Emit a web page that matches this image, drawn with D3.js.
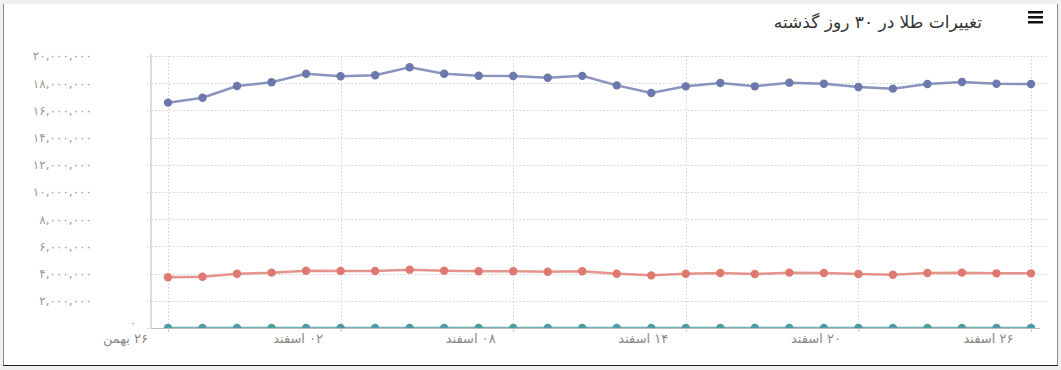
<!DOCTYPE html>
<meta charset="utf-8">
<script src="https://d3js.org/d3.v7.min.js"></script>
<style>
  body { margin: 0; background: #f0f0f0; }
  #divsvg { position: absolute; left: 0; top: 0; }
</style>
<div id="divsvg"></div>
<script>

// data (26 trading days)
var tickIdx = [0, 5, 10, 15, 20, 25];
var tickLabels = ["۲۶ بهمن", "۰۲ اسفند", "۰۸ اسفند", "۱۴ اسفند", "۲۰ اسفند", "۲۶ اسفند"];
var coin = [16.57, 16.93, 17.79, 18.07, 18.70, 18.51, 18.58, 19.17, 18.70, 18.55, 18.53, 18.40, 18.54,
            17.84, 17.28, 17.77, 18.01, 17.77, 18.04, 17.96, 17.72, 17.60, 17.94, 18.09, 17.96, 17.94];
var gram = [3.73, 3.77, 3.99, 4.07, 4.21, 4.19, 4.19, 4.29, 4.21, 4.17, 4.17, 4.14, 4.17,
            3.99, 3.87, 3.99, 4.04, 3.97, 4.07, 4.04, 3.97, 3.92, 4.04, 4.07, 4.02, 4.02];
var ounce = [0, 0, 0, 0, 0, 0, 0, 0, 0, 0, 0, 0, 0, 0, 0, 0, 0, 0, 0, 0, 0, 0, 0, 0, 0, 0];
var yTicks = d3.range(0, 21, 2);
var colors = ["#6D78AD", "#DF7970", "#4C9CA0"];

var W = 1061, H = 370;
var faDigits = "۰۱۲۳۴۵۶۷۸۹";
function fa(s) { return String(s).replace(/[0-9]/g, function(c) { return faDigits[+c]; }); }

var svg = d3.select("#divsvg").append("svg")
  .attr("width", W).attr("height", H)
  .style("font-family", "'DejaVu Sans', sans-serif");

// frame
svg.append("rect").attr("x", 3).attr("y", 4).attr("width", 1054).attr("height", 361).attr("fill", "#fff");
svg.append("line").attr("x1", 3.5).attr("x2", 3.5).attr("y1", 4).attr("y2", 365).attr("stroke", "#888");
svg.append("line").attr("x1", 1057.5).attr("x2", 1057.5).attr("y1", 4).attr("y2", 365).attr("stroke", "#888");
svg.append("line").attr("x1", 3).attr("x2", 1058).attr("y1", 365.5).attr("y2", 365.5).attr("stroke", "#222");

var x = d3.scaleLinear().domain([0, 25]).range([168, 1031]);
var y = d3.scaleLinear().domain([0, 20]).range([328, 56]);

svg.append("clipPath").attr("id", "plot").append("rect")
  .attr("x", 152).attr("y", 40).attr("width", 900).attr("height", 288);

// horizontal grid
svg.append("g").selectAll("line").data(yTicks.slice(1)).enter().append("line")
  .attr("x1", 152).attr("x2", 1048)
  .attr("y1", function(d) { return Math.round(y(d)) + 0.5; })
  .attr("y2", function(d) { return Math.round(y(d)) + 0.5; })
  .attr("stroke", "#d0d0d0").attr("stroke-dasharray", "1.5,2");

// vertical grid
svg.append("g").selectAll("line").data(tickIdx).enter().append("line")
  .attr("x1", function(d) { return Math.round(x(d)) + 0.5; })
  .attr("x2", function(d) { return Math.round(x(d)) + 0.5; })
  .attr("y1", 56).attr("y2", 332)
  .attr("stroke", "#d0d0d0").attr("stroke-dasharray", "1.5,2");

// y axis
var yAxis = svg.append("g").attr("transform", "translate(152,0)")
  .call(d3.axisLeft(y).tickValues(yTicks).tickSize(7).tickFormat(function(d) {
    return d == 0 ? "" : fa(d3.format(",")(d * 1e6));
  }));
yAxis.select(".domain").attr("stroke", "#ddd").attr("stroke-width", 2).attr("d", "M-1,54V328");
yAxis.selectAll(".tick line").attr("stroke", "#ccc").attr("stroke-dasharray", "1.5,2");
yAxis.selectAll(".tick text").attr("x", -60).attr("fill", "#999").style("font-size", "12px")
  .style("font-family", "'DejaVu Sans', sans-serif");
svg.append("text").attr("x", 133).attr("y", 327).attr("text-anchor", "middle")
  .attr("fill", "#999").style("font-size", "12px").text(fa(0));

// x axis
var xAxis = svg.append("g").attr("transform", "translate(0,328)")
  .call(d3.axisBottom(x).tickValues(tickIdx).tickSize(4)
    .tickFormat(function(d, i) { return tickLabels[i]; }));
xAxis.select(".domain").attr("stroke", "#bbb").attr("d", "M152,0.5H1040");
xAxis.selectAll(".tick line").attr("stroke", "#ccc");
xAxis.selectAll(".tick text").attr("dx", -43).attr("dy", "0.65em").attr("fill", "#888")
  .attr("direction", "rtl")
  .style("font-size", "13px").style("font-family", "'DejaVu Sans', sans-serif");

// series
var line = d3.line().x(function(d, i) { return x(i); }).y(function(d) { return y(d); });
var plot = svg.append("g").attr("clip-path", "url(#plot)");
[coin, gram, ounce].forEach(function(s, k) {
  plot.append("path").datum(s).attr("d", line).attr("fill", "none")
    .attr("stroke", colors[k]).attr("stroke-width", 2.5).attr("stroke-opacity", 0.8);
  plot.append("g").selectAll("circle").data(s).enter().append("circle")
    .attr("cx", function(d, i) { return x(i); })
    .attr("cy", function(d) { return y(d); })
    .attr("r", 4.2).attr("fill", colors[k]);
});

// title
svg.append("text").attr("x", 982).attr("y", 28).attr("text-anchor", "start")
  .attr("direction", "rtl").attr("fill", "#333").style("font-size", "17px")
  .text("تغییرات طلا در ۳۰ روز گذشته");

// menu icon
svg.append("g").selectAll("rect").data([0, 1, 2]).enter().append("rect")
  .attr("x", 1028).attr("y", function(d) { return 11 + d * 5; })
  .attr("width", 15).attr("height", 2.5).attr("fill", "#111");

</script>
